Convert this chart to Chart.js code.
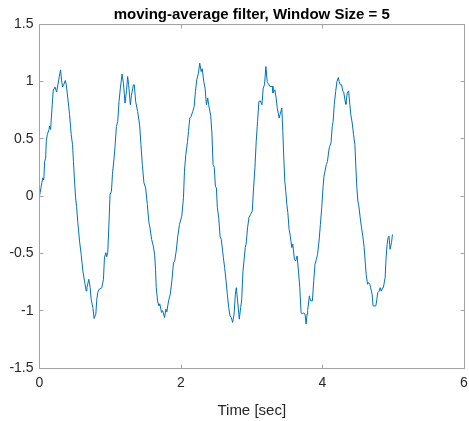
<!DOCTYPE html>
<html>
<head>
<meta charset="utf-8">
<script src="https://cdn.jsdelivr.net/npm/chart.js@4/dist/chart.umd.min.js"></script>
<style>
  html, body { margin: 0; padding: 0; background: #fff; }
  #wrap { width: 469px; height: 421px; }
</style>
</head>
<body>
<div id="wrap"><canvas id="filterChart" width="469" height="421"></canvas></div>
<script>
const chartTitle = "moving-average filter, Window Size = 5";
const xAxisTitle = "Time [sec]";
const xTicks = [0, 2, 4, 6];
const yTicks = [-1.5, -1, -0.5, 0, 0.5, 1, 1.5];

// filtered signal
const timeSec = [
  0.000, 0.025, 0.045, 0.060, 0.073, 0.087, 0.096, 0.110, 0.134, 0.143,
  0.157, 0.167, 0.180, 0.195, 0.210, 0.220, 0.242, 0.260, 0.279, 0.298,
  0.310, 0.326, 0.345, 0.364, 0.378, 0.400, 0.425, 0.448, 0.467, 0.480,
  0.495, 0.510, 0.524, 0.542, 0.566, 0.589, 0.613, 0.636, 0.660, 0.670,
  0.697, 0.716, 0.730, 0.754, 0.772, 0.796, 0.810, 0.824, 0.843, 0.880,
  0.904, 0.918, 0.937, 0.950, 0.965, 0.983, 0.997, 1.017, 1.031, 1.054,
  1.068, 1.087, 1.106, 1.124, 1.143, 1.167, 1.186, 1.209, 1.230, 1.246,
  1.260, 1.284, 1.300, 1.327, 1.340, 1.359, 1.387, 1.415, 1.434, 1.453,
  1.476, 1.500, 1.524, 1.547, 1.560, 1.585, 1.608, 1.627, 1.640, 1.650,
  1.669, 1.687, 1.700, 1.725, 1.740, 1.768, 1.786, 1.800, 1.824, 1.848,
  1.871, 1.894, 1.910, 1.932, 1.955, 1.979, 2.011, 2.035, 2.049, 2.068,
  2.092, 2.106, 2.124, 2.140, 2.166, 2.186, 2.204, 2.223, 2.246, 2.265,
  2.285, 2.300, 2.322, 2.340, 2.359, 2.378, 2.390, 2.420, 2.437, 2.453,
  2.470, 2.486, 2.500, 2.514, 2.533, 2.552, 2.570, 2.599, 2.617, 2.637,
  2.655, 2.674, 2.693, 2.710, 2.730, 2.750, 2.768, 2.782, 2.800, 2.824,
  2.843, 2.857, 2.876, 2.890, 2.908, 2.920, 2.941, 2.960, 2.983, 3.007,
  3.026, 3.045, 3.063, 3.082, 3.101, 3.120, 3.144, 3.162, 3.180, 3.200,
  3.218, 3.235, 3.256, 3.270, 3.293, 3.300, 3.326, 3.345, 3.360, 3.387,
  3.400, 3.425, 3.439, 3.453, 3.467, 3.481, 3.496, 3.510, 3.528, 3.545,
  3.566, 3.580, 3.603, 3.620, 3.641, 3.660, 3.679, 3.697, 3.715, 3.730,
  3.753, 3.768, 3.782, 3.790, 3.815, 3.830, 3.857, 3.876, 3.894, 3.913,
  3.930, 3.951, 3.970, 3.989, 4.007, 4.021, 4.030, 4.054, 4.070, 4.090,
  4.101, 4.120, 4.138, 4.150, 4.166, 4.186, 4.204, 4.223, 4.235, 4.251,
  4.270, 4.289, 4.300, 4.321, 4.330, 4.350, 4.369, 4.387, 4.400, 4.420,
  4.439, 4.458, 4.472, 4.486, 4.500, 4.514, 4.533, 4.550, 4.570, 4.589,
  4.603, 4.617, 4.637, 4.650, 4.669, 4.680, 4.701, 4.715, 4.730, 4.754,
  4.768, 4.782, 4.800, 4.815, 4.830, 4.852, 4.860, 4.885, 4.899, 4.913,
  4.927, 4.940, 4.955, 4.975, 4.989
];

const amplitude = [
  0.000, 0.085, 0.158, 0.140, 0.300, 0.330, 0.476, 0.535, 0.578, 0.610,
  0.580, 0.680, 0.795, 0.926, 0.940, 0.950, 0.906, 0.970, 1.040, 1.100,
  1.020, 0.950, 0.975, 1.007, 0.970, 0.854, 0.710, 0.535, 0.448, 0.300,
  0.130, -0.016, -0.090, -0.233, -0.393, -0.509, -0.654, -0.740, -0.828, -0.800,
  -0.726, -0.800, -0.900, -0.972, -1.068, -1.030, -0.900, -0.840, -0.813, -0.800,
  -0.726, -0.538, -0.494, -0.530, -0.490, -0.219, 0.013, 0.042, 0.187, 0.332,
  0.433, 0.607, 0.650, 0.824, 0.941, 1.063, 0.984, 0.810, 0.920, 1.042,
  0.970, 0.796, 0.880, 0.970, 0.970, 0.824, 0.737, 0.620, 0.448, 0.274,
  0.115, 0.071, -0.074, -0.233, -0.270, -0.378, -0.437, -0.509, -0.640, -0.800,
  -0.915, -0.958, -0.940, -1.016, -1.000, -1.060, -0.987, -1.010, -0.915, -0.857,
  -0.740, -0.581, -0.570, -0.480, -0.350, -0.248, -0.175, -0.016, 0.216, 0.360,
  0.476, 0.563, 0.680, 0.690, 0.737, 0.780, 0.911, 1.013, 1.071, 1.158,
  1.085, 1.110, 0.998, 0.940, 0.796, 0.854, 0.800, 0.700, 0.550, 0.274,
  0.250, 0.085, 0.070, -0.103, -0.190, -0.350, -0.380, -0.538, -0.625, -0.740,
  -0.857, -0.972, -1.045, -1.060, -1.103, -1.030, -0.857, -0.800, -0.915, -1.074,
  -0.972, -0.915, -0.654, -0.567, -0.450, -0.420, -0.277, -0.190, -0.161, -0.132,
  0.071, 0.245, 0.476, 0.650, 0.824, 0.830, 0.796, 0.941, 0.970, 1.129,
  0.998, 0.980, 0.955, 0.955, 0.955, 0.900, 0.926, 0.854, 0.770, 0.680,
  0.710, 0.767, 0.563, 0.332, 0.129, 0.042, -0.074, -0.145, -0.290, -0.350,
  -0.450, -0.420, -0.552, -0.567, -0.523, -0.654, -0.800, -1.016, -1.030, -1.020,
  -1.030, -1.117, -1.030, -1.000, -0.871, -0.915, -0.915, -0.740, -0.596, -0.552,
  -0.510, -0.393, -0.248, -0.103, 0.071, 0.172, 0.200, 0.274, 0.300, 0.400,
  0.433, 0.462, 0.607, 0.650, 0.796, 0.911, 0.998, 1.033, 1.000, 0.970,
  0.970, 0.911, 0.906, 0.824, 0.800, 0.897, 0.917, 0.796, 0.710, 0.637,
  0.535, 0.448, 0.245, 0.071, -0.045, -0.088, -0.190, -0.270, -0.350, -0.450,
  -0.567, -0.683, -0.770, -0.755, -0.770, -0.800, -0.857, -0.958, -0.960, -0.958,
  -0.900, -0.842, -0.830, -0.800, -0.830, -0.800, -0.800, -0.712, -0.538, -0.422,
  -0.364, -0.350, -0.465, -0.407, -0.335
];

const AXIS_COLOR = "#a3a3a3";
const TEXT_COLOR = "#262626";
const FONT = "'Liberation Sans', Arial, Helvetica, sans-serif";

// MATLAB style box with inward ticks on all four sides, title centred over the axes
const boxPlugin = {
  id: "matlabBox",
  afterDraw(chart) {
    const { ctx, chartArea: a, scales } = chart;
    const L = Math.floor(a.left) + 0.5;
    const R = Math.floor(a.right) + 0.5;
    const T = Math.floor(a.top) + 0.5;
    const B = Math.floor(a.bottom) + 0.5;
    const len = 4;
    ctx.save();
    ctx.strokeStyle = AXIS_COLOR;
    ctx.lineWidth = 1;
    ctx.strokeRect(L, T, R - L, B - T);
    ctx.beginPath();
    xTicks.forEach(v => {
      const px = Math.floor(scales.x.getPixelForValue(v)) + 0.5;
      ctx.moveTo(px, B); ctx.lineTo(px, B - len);
      ctx.moveTo(px, T); ctx.lineTo(px, T + len);
    });
    yTicks.forEach(v => {
      const py = Math.floor(scales.y.getPixelForValue(v)) + 0.5;
      ctx.moveTo(L, py); ctx.lineTo(L + len, py);
      ctx.moveTo(R, py); ctx.lineTo(R - len, py);
    });
    ctx.stroke();

    ctx.fillStyle = "#000";
    ctx.font = "bold 15px " + FONT;
    ctx.textAlign = "center";
    ctx.textBaseline = "alphabetic";
    ctx.fillText(chartTitle, (a.left + a.right) / 2, 18.5);
    ctx.restore();
  }
};

new Chart(document.getElementById("filterChart"), {
  type: "scatter",
  data: {
    datasets: [{
      data: timeSec.map((t, i) => ({ x: t, y: amplitude[i] })),
      showLine: true,
      borderColor: "#0072BD",
      borderWidth: 1,
      pointRadius: 0,
      tension: 0,
      fill: false
    }]
  },
  options: {
    responsive: false,
    animation: false,
    layout: { padding: { left: 0, right: 5, top: 24, bottom: 0 } },
    plugins: {
      legend: { display: false },
      tooltip: { enabled: false },
      title: { display: false }
    },
    scales: {
      x: {
        type: "linear",
        min: 0,
        max: 6,
        afterBuildTicks: s => { s.ticks = xTicks.map(v => ({ value: v })); },
        afterFit: s => { s.height = 53; s.paddingLeft = 0; s.paddingRight = 0; },
        grid: { display: false, drawTicks: false },
        border: { display: false },
        ticks: {
          color: TEXT_COLOR,
          font: { family: FONT, size: 14 },
          padding: 7,
          maxRotation: 0,
          callback: v => String(v)
        },
        title: {
          display: true,
          text: xAxisTitle,
          color: TEXT_COLOR,
          font: { family: FONT, size: 15 },
          padding: { top: 0, bottom: 1 }
        }
      },
      y: {
        min: -1.5,
        max: 1.5,
        afterBuildTicks: s => { s.ticks = yTicks.map(v => ({ value: v })); },
        afterFit: s => { s.width = 39.5; s.paddingTop = 0; s.paddingBottom = 0; },
        grid: { display: false, drawTicks: false },
        border: { display: false },
        ticks: {
          color: TEXT_COLOR,
          font: { family: FONT, size: 14 },
          padding: 6,
          callback: v => String(v)
        }
      }
    }
  },
  plugins: [boxPlugin]
});
</script>
</body>
</html>
